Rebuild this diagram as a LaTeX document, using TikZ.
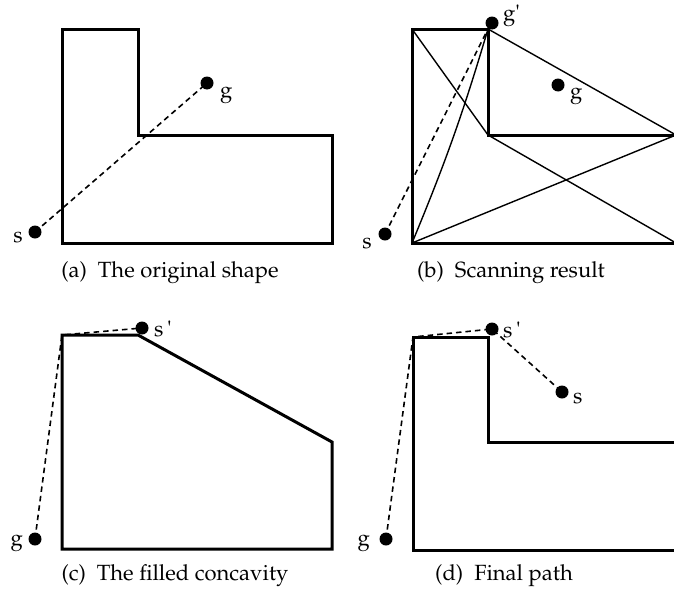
\documentclass[tikz,border=0pt]{standalone}
\usepackage[T1]{fontenc}
\usepackage{mathpazo}
\begin{document}
\begin{tikzpicture}[x=1pt,y=-1pt,
  outline/.style={line width=3pt,line join=miter},
  thinline/.style={line width=1.4pt},
  dsh/.style={line width=1.6pt,dash pattern=on 5.5pt off 4pt},
  dot/.style={circle,fill=black,inner sep=0pt,minimum size=13pt},
  lab/.style={inner sep=0pt,font=\fontsize{22}{25}\selectfont},
  captext/.style={inner sep=0pt,font=\fontsize{22}{25}\selectfont,anchor=base}]
\useasboundingbox (0,0) rectangle (674,589);
% ---------- (a)
\coordinate (a1) at (62,243);
\coordinate (a2) at (62,29);
\coordinate (a3) at (138,29);
\coordinate (a4) at (138,135);
\coordinate (a5) at (332,135);
\coordinate (a6) at (332,243);
\draw[outline] (a1) -- (a2) -- (a3) -- (a4) -- (a5) -- (a6) -- cycle;
\node[dot] (ag) at (207,83) {};
\node[dot] (as) at (35,232) {};
\draw[dsh] (as.center) -- (ag.center);
\node[lab,anchor=base west] (agl) at (220,97) {g};
\node[lab,anchor=base east] (asl) at (23,242) {s};
\node[captext] (capa) at (170,277) {(a)\enspace The original shape};
% ---------- (b)
\coordinate (b1) at (412,243);
\coordinate (b2) at (412,29);
\coordinate (b3) at (488,29);
\coordinate (b4) at (488,135);
\coordinate (b5) at (676,135);
\coordinate (b6) at (676,243);
\draw[thinline] (b2) -- (b4) -- (b6);
\draw[thinline] (b1) -- (b5);
\draw[thinline] (b3) -- (b5);
\draw[thinline] (b1) to[bend right=3] (b3);
\draw[outline] (b1) -- (b2) -- (b3) -- (b4) -- (b5) -- (b6) -- cycle;
\node[dot] (bgp) at (492,23) {};
\node[dot] (bg) at (558,85) {};
\node[dot] (bs) at (385,234) {};
\draw[dsh] (bs.center) -- (b3);
\node[lab,anchor=base west] (bgpl) at (503,20) {g\textquotesingle};
\node[lab,anchor=base west] (bgl) at (570,98) {g};
\node[lab,anchor=base east] (bsl) at (372,248) {s};
\node[captext] (capb) at (511,277) {(b)\enspace Scanning result};
% ---------- (c)
\coordinate (c1) at (62,549);
\coordinate (c2) at (62,335);
\coordinate (c3) at (138,335);
\coordinate (c4) at (332,442);
\coordinate (c5) at (332,549);
\draw[outline] (c1) -- (c2) -- (c3) -- (c4) -- (c5) -- cycle;
\node[dot] (csp) at (142,328) {};
\node[dot] (cg) at (35,539) {};
\draw[dsh] (cg.center) -- (c2) -- (csp.center);
\node[lab,anchor=base west] (cspl) at (154,336) {s\,\textquotesingle};
\node[lab,anchor=base east] (cgl) at (23,545) {g};
\node[captext] (capc) at (175,580) {(c)\enspace The filled concavity};
% ---------- (d)
\coordinate (d1) at (413,550);
\coordinate (d2) at (413,337);
\coordinate (d3) at (488,337);
\coordinate (d4) at (488,442);
\coordinate (d5) at (676,442);
\coordinate (d6) at (676,550);
\draw[outline] (d1) -- (d2) -- (d3) -- (d4) -- (d5) -- (d6) -- cycle;
\node[dot] (dsp) at (492,329) {};
\node[dot] (ds) at (562,392) {};
\node[dot] (dg) at (386,539) {};
\draw[dsh] (dg.center) -- (d2) -- (dsp.center) -- (ds.center);
\node[lab,anchor=base west] (dspl) at (503,337) {s\,\textquotesingle};
\node[lab,anchor=base west] (dsl) at (573,403) {s};
\node[lab,anchor=base east] (dgl) at (370,545) {g};
\node[captext] (capd) at (504,580) {(d)\enspace Final path};
\end{tikzpicture}
\end{document}
